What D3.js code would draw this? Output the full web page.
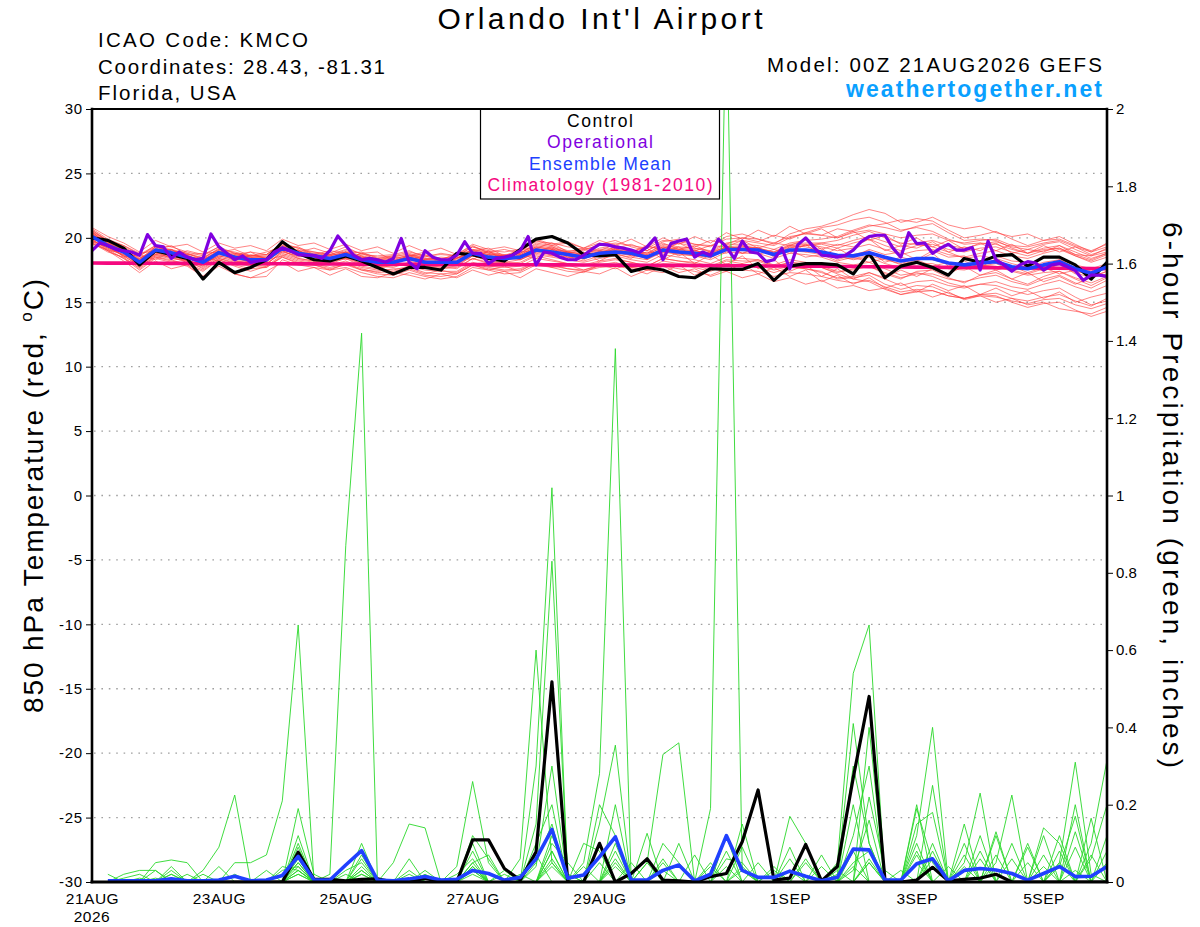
<!DOCTYPE html>
<html><head><meta charset="utf-8">
<script src="https://cdn.jsdelivr.net/npm/d3@7/dist/d3.min.js"></script>
<style>
body{margin:0;background:#fff}
svg{display:block}
text{font-family:"Liberation Sans",Arial,Helvetica,sans-serif}
</style>
</head><body>
<svg id="chart" width="1200" height="927"></svg>
<script>
// ---------------- DATA ----------------
const startTime = "2026-08-21T00:00:00Z";
const endTime = "2026-09-06T00:00:00Z";
const ensStepHours = 6;      // GEFS members / control / mean
const opStepHours = 3;       // operational run
const precipFirstStep = 1;   // precip accumulations start at +6h

const dateTicks = ["2026-08-21","2026-08-23","2026-08-25","2026-08-27","2026-08-29","2026-09-01","2026-09-03","2026-09-05"];
const dateTickLabels = ["21AUG","23AUG","25AUG","27AUG","29AUG","1SEP","3SEP","5SEP"];
const yearLabel = "2026";
const tempTicks = [-30,-25,-20,-15,-10,-5,0,5,10,15,20,25,30];
const precipTicks = [0,0.2,0.4,0.6,0.8,1,1.2,1.4,1.6,1.8,2];
const precipTickLabels = ["0","0.2","0.4","0.6","0.8","1","1.2","1.4","1.6","1.8","2"];

const legendLabels = ["Control","Operational","Ensemble Mean","Climatology (1981-2010)"];

// 850 hPa temperature, control (6-hourly, 65 values)
const controlTemp = [
20.0,19.8,19.2,17.9,19.0,18.7,18.4,16.8,18.1,17.3,17.7,18.3,19.7,18.8,18.3,18.2,
18.6,18.2,17.7,17.2,17.7,17.7,17.5,18.8,18.7,18.4,18.2,19.1,19.9,20.1,19.6,18.7,
18.6,18.7,17.4,17.7,17.5,17.0,16.9,17.6,17.55,17.55,18.0,16.7,17.8,18.0,18.0,17.9,
17.2,18.8,16.9,17.8,18.1,17.7,17.1,18.4,18.1,18.6,18.7,17.8,18.5,18.5,17.9,16.8,18.1];

// ensemble mean temperature (6-hourly)
const meanTemp = [
20.1,19.4,18.9,18.1,19.05,18.85,18.5,18.1,18.85,18.5,18.3,18.3,19.2,18.8,18.6,18.4,
18.7,18.3,18.1,18.1,18.4,18.1,18.1,18.1,18.8,18.5,18.4,18.5,19.05,18.9,18.7,18.5,
18.8,18.9,18.8,18.5,19.05,18.9,18.8,18.6,19.1,19.1,19.05,18.7,19.05,19.05,18.9,18.65,
18.6,18.85,18.5,18.2,18.4,18.4,18.05,17.9,18.05,18.15,17.75,17.6,17.9,18.15,17.6,17.25,17.75];

// operational temperature (3-hourly, 129 values)
const opTemp = [
19.0,19.6,19.4,19.1,19.0,18.9,18.65,20.25,19.4,19.3,18.4,18.9,18.5,18.3,18.4,20.3,
19.3,18.8,18.3,18.6,18.1,18.2,18.3,18.9,19.2,19.0,18.7,18.65,18.65,18.4,19.0,20.15,
19.4,18.65,18.3,18.4,18.3,18.1,18.4,19.95,18.1,17.6,19.0,18.5,18.3,18.3,18.65,19.7,
18.8,18.8,18.0,18.4,18.5,18.65,19.0,20.1,17.9,18.9,18.8,18.5,18.3,18.3,18.65,19.1,
19.5,19.45,19.3,19.2,19.05,18.85,19.3,20.0,18.3,19.55,19.75,19.9,18.5,18.9,18.65,19.9,
19.3,18.4,19.75,18.9,18.8,18.15,18.3,19.2,17.6,19.45,20.0,19.3,18.65,18.6,18.5,18.65,
19.05,19.7,20.1,20.2,20.2,19.2,18.5,20.4,19.55,19.6,18.8,19.2,19.5,19.05,19.05,19.25,
17.5,19.75,18.3,17.9,17.4,17.9,18.15,18.05,17.5,17.9,18.0,17.75,17.45,16.7,17.1,17.1,17.0];

// climatology (1981-2010), 6-hourly
const climoTemp = [
18.05,18.04,18.04,18.03,18.03,18.02,18.02,18.01,18.01,18.0,18.0,17.99,17.99,17.98,17.98,17.97,
17.97,17.96,17.96,17.95,17.95,17.94,17.94,17.93,17.93,17.92,17.92,17.91,17.91,17.9,17.9,17.89,
17.89,17.88,17.88,17.87,17.86,17.86,17.85,17.84,17.84,17.83,17.82,17.81,17.81,17.8,17.79,17.78,
17.77,17.76,17.75,17.74,17.73,17.72,17.71,17.7,17.69,17.68,17.67,17.66,17.65,17.64,17.63,17.62,17.61];

// ensemble member temperatures (red)
const memberTemps = [
[20.4,19.6,19.0,18.3,19.3,19.0,18.8,18.4,19.1,18.9,18.6,18.7,19.6,19.2,18.9,18.7,
 19.1,18.8,18.5,18.6,18.9,18.6,18.7,18.6,19.3,19.0,18.9,19.1,19.7,19.6,19.3,19.1,
 19.4,19.6,19.4,19.2,19.8,19.7,19.5,19.4,19.9,20.0,19.9,19.6,20.1,20.3,20.2,20.0,
 20.4,20.6,20.3,20.0,20.2,20.3,19.8,19.6,19.8,19.9,19.4,19.3,19.6,19.8,19.3,18.9,19.3],
[19.8,19.2,18.6,17.8,18.7,18.5,18.1,17.7,18.4,18.0,17.8,17.7,18.6,18.2,18.0,17.7,
 18.0,17.6,17.3,17.4,17.7,17.3,17.2,17.3,18.0,17.7,17.5,17.6,18.1,17.9,17.6,17.4,
 17.7,17.8,17.6,17.2,17.8,17.6,17.4,17.1,17.6,17.5,17.4,17.0,17.3,17.2,17.0,16.7,
 16.5,16.7,16.2,15.8,16.0,15.9,15.5,15.3,15.5,15.4,15.1,14.9,15.2,15.3,14.8,14.5,14.9],
[20.6,19.8,19.3,18.6,19.4,19.3,18.9,18.6,19.3,18.8,18.5,18.6,19.4,18.9,18.5,18.3,
 18.9,18.4,18.0,18.2,18.6,18.3,18.5,18.4,19.1,18.9,18.7,18.8,19.5,19.3,18.9,18.7,
 19.2,19.4,19.0,18.8,19.5,19.3,19.2,19.0,19.6,19.8,19.6,19.4,20.0,20.4,20.8,21.0,
 21.4,21.6,21.2,20.6,20.8,20.5,19.9,19.5,19.6,19.5,19.1,18.8,19.2,19.4,18.9,18.4,18.8],
[19.9,19.1,18.7,17.9,18.8,18.6,18.4,18.0,18.6,18.3,18.2,18.0,18.9,18.6,18.4,18.3,
 18.5,18.0,17.8,17.7,18.1,17.8,17.7,17.8,18.6,18.2,18.1,18.3,18.8,18.6,18.5,18.2,
 18.6,18.7,18.5,18.3,18.9,18.8,18.6,18.3,18.9,18.8,18.8,18.4,18.8,18.7,18.5,18.1,
 17.9,18.1,17.6,17.1,17.3,17.0,16.5,16.2,16.4,16.3,15.9,15.6,15.9,16.1,15.4,14.8,15.1],
[20.2,19.5,19.1,18.4,19.2,18.9,18.6,18.3,19.0,18.7,18.4,18.5,19.3,18.9,18.8,18.6,
 18.9,18.5,18.3,18.4,18.6,18.3,18.3,18.2,19.0,18.7,18.6,18.7,19.3,19.1,18.9,18.7,
 19.0,19.1,18.9,18.7,19.3,19.1,19.0,18.8,19.3,19.4,19.2,18.9,19.4,19.5,19.3,19.0,
 19.2,19.5,19.1,18.7,19.0,19.1,18.7,18.5,18.8,19.0,18.6,18.4,18.8,19.1,18.6,18.2,18.7],
[19.6,18.9,18.5,17.6,18.5,18.3,17.9,17.4,18.3,17.9,17.6,17.7,18.5,18.1,17.9,17.6,
 17.9,17.5,17.2,17.1,17.5,17.1,17.0,17.2,17.9,17.6,17.4,17.5,18.0,17.8,17.6,17.5,
 17.8,17.9,17.7,17.5,18.0,17.9,17.7,17.4,17.9,17.8,17.7,17.3,17.7,17.6,17.3,16.9,
 17.0,17.3,16.8,16.3,16.6,16.7,16.3,16.1,16.4,16.6,16.2,16.0,16.4,16.7,16.2,15.8,16.3],
[20.7,19.9,19.4,18.8,19.0,19.4,18.7,18.8,18.9,19.1,18.6,18.9,19.3,19.3,18.7,19.0,
 18.8,18.9,18.4,18.6,18.6,18.7,18.3,18.8,19.0,19.2,18.6,19.1,19.2,19.6,18.9,19.2,
 19.0,19.5,18.9,19.3,19.2,19.6,19.0,19.4,19.3,19.8,19.2,19.6,19.4,19.9,19.1,19.5,
 19.3,19.9,19.0,19.4,19.2,19.7,18.9,19.3,19.0,19.6,18.8,19.1,18.9,19.4,18.7,18.6,18.9],
[20.0,19.3,18.8,18.0,18.7,18.9,18.2,17.9,18.7,18.6,18.0,18.4,19.0,18.5,18.7,18.2,
 18.9,18.1,17.9,18.3,18.2,17.9,18.4,17.9,18.6,18.7,18.2,18.6,19.2,18.6,18.9,18.3,
 19.0,18.7,19.1,18.3,19.2,18.6,19.1,18.4,19.4,18.8,19.3,18.5,19.3,18.9,19.2,18.3,
 18.7,19.0,18.1,18.5,18.2,18.8,17.8,18.2,17.7,18.4,17.5,17.9,17.4,18.0,17.2,17.5,17.0],
[20.3,19.7,18.8,18.3,18.9,18.6,18.7,18.0,18.5,18.8,18.5,18.1,19.1,19.0,18.4,18.5,
 18.5,18.6,18.0,17.9,18.5,18.2,17.9,18.4,18.9,18.3,18.7,18.3,18.9,19.2,18.5,18.8,
 18.6,19.2,18.6,18.9,18.8,19.3,18.5,18.9,18.8,19.4,18.7,19.1,18.8,19.5,18.6,19.2,
 18.5,19.1,18.7,18.9,18.3,19.0,18.5,18.6,18.0,18.6,18.2,18.1,17.8,18.3,17.9,17.6,18.0],
[19.7,19.0,18.9,17.7,18.9,18.4,18.3,17.8,18.9,18.2,18.1,17.9,19.0,18.4,18.2,18.0,
 18.4,17.8,17.6,17.9,18.0,17.7,17.8,17.6,18.4,18.0,18.1,18.0,18.6,18.3,18.0,17.9,
 18.2,18.4,18.1,17.8,18.4,18.2,18.0,17.7,18.2,18.0,18.3,17.8,18.1,17.9,17.7,17.3,
 17.6,17.8,17.2,16.8,17.4,17.5,16.9,16.5,17.1,17.3,16.8,16.4,17.0,17.4,16.8,16.3,16.9],
[20.5,19.4,19.2,18.2,19.1,19.1,18.5,18.4,19.2,18.4,18.6,18.5,19.4,19.2,18.6,18.7,
 18.7,18.5,18.4,18.0,18.7,18.4,18.3,18.7,19.4,18.8,18.5,18.9,19.8,19.4,19.0,19.0,
 19.5,19.8,19.3,19.0,19.7,19.9,19.5,19.3,20.1,20.3,19.9,19.5,20.3,20.7,20.9,21.3,
 21.8,22.2,21.9,21.2,21.5,21.3,20.6,20.0,20.2,20.5,19.9,19.4,19.8,20.1,19.5,18.9,19.6],
[19.5,19.1,18.4,17.5,18.4,18.1,17.8,17.0,18.1,17.2,16.9,17.0,18.3,17.9,17.7,17.5,
 17.7,17.3,17.0,16.9,17.3,17.0,16.8,17.0,17.7,17.5,17.2,17.3,17.9,17.7,17.4,17.3,
 17.9,18.1,17.7,17.6,18.2,18.0,17.9,17.5,18.0,17.8,17.9,17.5,17.8,17.6,17.4,16.8,
 16.9,17.1,16.4,16.0,16.3,16.2,15.7,15.3,15.6,15.5,15.0,14.6,14.9,15.0,14.4,13.9,14.3],
[20.1,19.6,19.0,18.1,18.9,18.8,18.4,18.2,18.8,18.5,18.3,18.2,19.1,18.7,18.5,18.4,
 18.7,18.4,18.2,18.1,18.4,18.1,18.1,18.1,18.8,18.5,18.4,18.6,19.1,18.9,18.7,18.5,
 18.9,19.0,18.9,18.6,19.2,19.1,19.0,18.8,19.3,19.2,19.1,18.8,19.4,19.3,19.0,18.6,
 18.3,18.5,18.0,17.7,18.0,18.0,17.6,17.5,17.8,18.0,17.5,17.2,17.6,17.9,17.3,16.9,17.4],
[20.2,19.3,18.6,18.4,19.0,18.7,18.6,18.0,18.6,18.6,18.2,18.3,19.3,18.8,18.6,18.3,
 18.6,18.2,18.1,18.2,18.3,18.0,18.0,18.0,18.7,18.4,18.3,18.4,19.0,18.8,18.6,18.4,
 18.7,18.8,18.7,18.4,18.9,18.7,18.6,18.5,19.0,19.1,19.0,18.7,19.2,19.4,19.6,19.8,
 20.2,20.5,20.0,19.6,19.5,19.3,18.9,18.4,18.6,18.4,18.0,17.7,18.1,18.3,17.7,17.2,17.8],
[19.9,19.5,18.8,17.9,19.1,18.9,18.4,18.1,18.8,18.4,18.2,18.4,19.1,18.6,18.6,18.2,
 18.6,18.2,18.0,18.0,18.5,18.2,18.0,18.0,18.6,18.3,18.5,18.3,18.9,18.7,18.5,18.4,
 18.8,18.9,18.6,18.5,19.0,18.8,18.7,18.6,19.0,19.0,19.0,18.8,19.0,18.9,18.7,18.5,
 18.4,18.6,18.3,18.0,18.4,18.3,18.0,17.7,17.9,17.8,17.4,17.1,17.3,17.4,16.9,16.5,17.0],
[20.4,19.8,19.1,18.6,19.3,19.0,18.7,18.5,19.1,18.8,18.6,18.7,19.5,19.0,18.9,18.7,
 19.0,18.6,18.4,18.5,18.8,18.4,18.4,18.3,19.0,18.7,18.6,18.7,19.3,19.1,18.8,18.6,
 18.9,19.1,19.0,18.7,19.3,19.0,18.9,18.7,19.2,19.3,19.2,18.9,19.5,19.6,19.6,19.4,
 19.8,20.1,19.7,19.3,19.6,19.8,19.4,19.2,19.5,19.7,19.3,19.1,19.5,19.7,19.1,18.6,19.2],
[19.8,19.2,18.7,18.0,18.6,18.6,18.2,17.8,18.5,18.2,18.0,18.0,18.8,18.4,18.2,18.1,
 18.4,18.0,17.8,17.8,18.0,17.7,17.6,17.7,18.4,18.1,18.0,18.1,18.7,18.5,18.3,18.1,
 18.4,18.6,18.3,18.1,18.7,18.5,18.3,18.0,18.5,18.4,18.3,17.9,18.3,18.1,17.8,17.4,
 17.5,17.8,17.3,16.9,17.2,17.2,16.8,16.6,16.9,17.1,16.6,16.3,16.8,17.1,16.5,16.1,16.7],
[20.3,19.4,19.1,18.3,19.1,18.8,18.6,18.3,18.9,18.6,18.4,18.4,19.2,18.8,18.7,18.5,
 18.8,18.4,18.2,18.2,18.5,18.2,18.2,18.2,18.9,18.6,18.5,18.6,19.2,19.0,18.8,18.6,
 18.9,19.0,18.9,18.6,19.1,19.0,18.9,18.7,19.2,19.3,19.2,18.8,19.3,19.4,19.5,19.2,
 19.6,19.9,19.4,19.0,19.4,19.5,19.1,18.9,19.2,19.3,18.9,18.6,19.0,19.2,18.7,18.3,18.8],
[19.6,19.0,18.4,17.7,18.6,18.4,18.2,17.6,18.4,18.1,17.9,17.8,18.7,18.3,18.1,17.9,
 18.2,17.7,17.5,17.5,17.8,17.5,17.4,17.4,18.1,17.8,17.7,17.8,18.4,18.2,18.0,17.8,
 18.1,18.3,18.1,17.8,18.4,18.2,18.1,17.8,18.3,18.2,18.2,17.7,18.1,18.0,17.7,17.2,
 16.8,16.6,16.0,15.6,15.8,15.9,15.5,15.3,15.6,15.7,15.3,15.1,15.4,15.6,15.1,14.7,15.3],
[20.6,19.7,19.0,18.2,19.3,19.1,18.8,18.3,19.0,18.6,18.5,18.4,19.3,18.9,18.7,18.6,
 18.9,18.5,18.3,18.3,18.7,18.3,18.3,18.4,19.1,18.8,18.6,18.8,19.4,19.2,18.9,18.8,
 19.1,19.2,19.1,18.8,19.4,19.2,19.2,18.9,19.5,19.5,19.4,19.1,19.6,19.8,19.9,20.1,
 20.6,21.0,20.8,20.5,20.9,21.1,20.4,19.8,19.9,19.8,19.2,18.8,19.1,19.2,18.6,18.1,18.5],
[19.9,19.0,18.2,17.3,18.2,17.6,17.9,17.0,17.8,17.2,16.9,17.4,18.1,17.4,17.7,17.1,
 17.6,17.0,16.9,17.3,17.1,16.8,17.2,16.9,17.5,17.1,17.4,16.9,17.6,17.3,17.0,17.4,
 17.2,17.7,17.0,17.5,17.3,17.9,17.1,17.6,17.4,18.0,17.2,17.7,17.0,17.5,16.6,17.1,
 16.4,16.9,16.1,16.5,15.8,16.4,15.9,16.3,15.6,16.1,15.5,15.9,15.3,15.8,15.0,15.4,15.7],
[20.8,20.1,19.6,18.9,19.8,19.3,19.5,18.9,19.6,19.2,19.4,19.0,19.9,19.4,19.6,19.1,
 19.5,19.0,19.3,18.8,19.4,18.9,19.2,18.7,19.5,19.1,19.3,19.0,19.9,19.5,19.7,19.2,
 19.8,19.4,19.9,19.3,20.0,19.5,20.1,19.6,20.4,19.9,20.6,20.1,20.9,20.3,20.7,20.0,
 20.5,19.8,20.2,19.5,20.0,19.3,19.8,19.1,19.6,19.0,19.5,18.8,19.4,18.9,19.3,18.7,19.1],
[20.0,19.5,18.5,18.7,18.3,18.9,18.0,18.5,18.2,18.7,18.9,18.3,18.6,19.1,18.2,18.9,
 18.3,18.8,18.9,18.2,18.6,18.9,18.1,18.5,18.3,19.0,18.2,18.7,18.4,19.1,18.3,18.9,
 18.2,18.8,18.4,19.2,18.3,18.9,18.0,18.7,17.9,18.6,17.6,18.3,17.4,17.9,17.0,17.6,
 16.8,17.3,16.9,17.5,17.0,17.6,17.2,17.8,17.1,17.5,16.8,17.3,16.6,17.0,16.4,16.9,17.2],
[20.3,19.6,18.9,18.5,18.7,19.1,18.5,18.2,18.9,18.3,18.7,18.4,18.9,19.0,18.5,18.6,
 18.4,18.8,18.3,18.5,18.3,18.6,18.2,18.5,18.7,18.9,18.6,18.9,19.0,19.3,18.8,19.1,
 18.8,19.3,18.9,19.4,19.0,19.6,19.3,19.8,19.5,20.0,19.7,20.2,19.9,20.4,20.2,20.7,
 20.5,20.9,21.1,21.4,21.2,21.6,21.0,20.7,20.9,20.4,20.1,20.3,19.8,19.9,19.4,19.0,19.5],
[19.7,19.3,18.6,17.8,18.5,18.2,18.0,17.5,18.3,17.8,17.4,17.8,18.5,18.0,17.9,17.5,
 18.0,17.5,17.4,17.6,17.6,17.2,17.5,17.2,17.9,17.5,17.8,17.4,18.1,17.7,17.9,17.5,
 17.9,17.6,18.0,17.5,17.8,17.3,17.6,17.0,17.4,16.9,17.2,16.6,16.9,16.4,16.7,16.1,
 16.3,15.9,16.1,15.6,15.9,15.4,15.8,15.2,15.5,15.0,15.3,14.8,15.0,14.5,14.3,14.1,14.6],
[20.5,19.8,19.4,18.7,19.4,18.6,19.0,18.7,19.3,18.5,18.9,18.7,19.6,18.9,19.2,18.8,
 19.3,18.7,18.6,18.7,19.0,18.5,18.8,18.6,19.3,18.9,19.1,18.8,19.6,19.4,19.6,19.2,
 19.6,19.2,19.5,19.0,19.6,19.1,19.4,18.9,19.3,18.8,19.1,18.6,19.0,18.5,18.7,18.2,
 18.5,18.1,18.4,17.9,18.3,17.8,18.1,17.6,18.0,17.5,17.8,17.3,17.7,17.2,17.5,17.0,17.4]
];

// 6-hour precipitation (inches), steps +6h .. +384h (64 values)
const controlPrecip = [
0,0,0,0,0,0,0,0, 0,0,0,0,.077,.007,.007,.003,
.007,.008,0,0,.01,0,0,.109, .109,.035,.005,.078,.518,0,0,.1,
0,.022,.06,.005,.003,0,.014,.022, .104,.238,.005,.01,.097,.003,.04,.27,
.48,.005,0,.005,.038,.003,.007,.01, .02,0,0,0,0,0,0,0];
const meanPrecip = [
.003,.003,.003,.003,.008,.003,.003,.005, .015,.003,.005,.017,.066,.005,.005,.044,
.081,.005,.003,.008,.014,.005,.007,.03, .022,.005,.012,.06,.136,.01,.018,.065,
.117,.005,.005,.03,.044,.003,.02,.12, .03,.012,.012,.028,.015,.003,.012,.085,
.083,.005,.005,.047,.06,.003,.03,.035, .031,.022,.005,.022,.04,.014,.015,.04];

const memberPrecips = [
[0,0,0,0,.02,0,0,0, 0,0,0,0,0,0,.02,.87, 1.42,0,0,0,0,0,0,0, 0,.03,0,0,0,0,0,0,
 0,0,0,0,0,0,0,0, 0,0,0,0,0,0,0,.05, .08,0,0,0,0,0,0,0, 0,0,0,.04,0,0,0,0],
[0,0,0,0,0,0,0,0, .05,.05,.07,.21,.665,0,0,0, 0,0,0,0,0,0,0,.03, 0,0,0,0,.04,0,0,0,
 0,0,0,0,0,0,0,0, .03,0,0,0,0,0,0,0, 0,0,0,0,.06,0,0,0, 0,0,0,0,0,0,0,0],
[0,.02,.03,.03,0,0,.03,.09, .225,0,0,0,.19,.02,0,0, 0,0,0,0,0,0,0,0, 0,0,0,0,0,0,0,0,
 0,0,0,0,0,0,0,.04, 0,0,0,0,0,0,0,0, .05,0,0,0,0,0,0,0, 0,0,0,0,0,.03,0,0],
[0,0,0,0,0,0,0,0, 0,0,0,0,.04,0,0,0, 0,0,.05,.15,.14,0,0,0, 0,0,.06,.6,.05,0,0,0,
 0,0,0,0,0,0,0,0, 0,0,0,.03,0,0,0,0, 0,0,0,0,0,0,.05,.23, 0,0,0,0,0,0,0,0],
[0,0,0,0,0,0,0,0, 0,0,0,0,0,0,0,0, 0,0,0,0,0,0,.04,.26, .05,0,0,.3,1.02,0,0,0,
 0,0,0,.05,0,0,0,0, 0,0,0,0,0,0,0,.04, 0,0,0,0,0,0,0,0, 0,0,0,0,.05,.31,.02,0],
[0,0,0,0,.02,0,0,0, 0,0,0,0,0,0,0,0, .03,0,0,0,0,0,0,0, 0,0,0,.15,.83,.02,0,.15,
 .354,0,0,0,0,0,0,0, 0,0,0,0,0,0,0,.03, .16,0,0,0,0,0,0,0, 0,0,0,0,0,0,0,0],
[0,0,0,0,0,0,0,0, 0,0,0,0,.05,0,0,0, 0,0,0,0,0,0,0,.02, 0,0,0,0,0,0,.05,.28,
 1.38,0,0,0,0,0,0,0, 0,0,0,.17,.1,0,0,0, 0,0,0,0,0,0,0,0, .07,0,0,0,0,0,0,0],
[0,0,0,0,0,0,0,0, 0,0,0,0,.03,0,0,0, 0,0,0,0,0,0,0,0, 0,0,0,0,.06,0,0,0,
 0,0,.05,.33,.36,0,0,0, 0,0,0,0,0,0,0,0, 0,0,0,.12,.4,0,0,0, 0,0,0,.12,0,0,0,0],
[0,0,0,0,0,0,0,0, 0,0,0,0,0,0,0,0, .02,0,0,0,0,0,0,0, 0,0,0,0,.08,0,0,0,
 0,0,0,0,0,0,.19,2.3, .03,0,0,0,0,0,0,0, .06,0,0,0,0,0,0,0, .05,.225,0,0,0,0,0,0],
[0,0,0,0,0,0,0,0, 0,0,0,0,.02,0,0,0, 0,0,0,0,0,0,0,.05, 0,0,0,0,0,0,0,0,
 .08,0,0,0,0,0,0,0, 0,0,0,0,0,0,.05,.54, .665,0,0,.07,0,0,0,0, 0,0,0,0,0,0,.1,.315],
[0,0,0,0,0,0,0,0, 0,0,0,0,.12,0,0,0, 0,0,0,0,0,0,0,.04, 0,0,0,0,0,0,0,0,
 .05,0,0,0,0,0,0,0, 0,0,0,0,0,0,.02,.41, .1,0,0,0,0,0,0,0, 0,0,0,0,.04,.17,0,0],
[0,0,0,.05,.057,.05,0,0, 0,0,0,0,.07,0,0,0, .04,0,0,0,0,0,0,.08, 0,0,0,.1,.2,0,0,0,
 0,0,0,0,0,0,0,0, .15,0,0,0,0,0,0,0, 0,0,0,.2,0,0,.1,0, 0,0,0,0,.12,0,0,0],
[0,.01,.02,0,.03,0,0,0, 0,0,0,0,.05,0,0,.02, 0,0,0,.06,0,0,0,.05, .07,0,0,0,0,0,.1,.08,
 0,0,.126,0,0,0,0,.08, 0,0,0,.06,0,.04,0,0, 0,0,0,.19,.05,0,0,0, .12,0,.1,0,0,0,.165,0],
[.02,0,0,.03,0,0,.02,0, 0,0,0,0,.03,0,0,0, 0,.01,0,0,0,0,0,.04, 0,0,0,0,.1,.05,0,0,
 .2,0,0,0,.1,0,0,0, .09,0,0,0,.06,0,0,.2, 0,0,.03,0,.1,0,0,.08, 0,0,0,.07,0,.09,0,0],
[0,0,0,0,.04,0,0,0, .02,0,0,.03,.04,0,0,0, .06,0,0,0,.03,0,0,0, 0,.02,0,.04,.3,0,0,.05,
 0,0,0,.06,0,0,.05,0, 0,0,.04,0,0,0,0,.12, .3,0,0,.05,0,0,.15,0, 0,.06,0,0,.08,0,0,.12],
[0,0,0,0,0,.02,0,0, 0,0,0,0,.02,0,0,0, .1,0,0,0,0,0,0,.1, 0,0,0,0,.05,0,.04,0,
 .1,0,.05,0,0,0,0,.12, 0,.05,0,0,0,0,0,.08, 0,0,0,.15,.18,0,0,.06, 0,0,.09,0,0,.13,0,.05],
[0,0,0,0,0,0,0,0, 0,0,0,0,.1,0,0,.03, .05,0,0,0,0,0,.02,.06, 0,0,0,.05,.15,0,0,0,
 0,.05,0,0,0,.07,0,0, .04,0,0,.09,0,0,0,0, .22,.03,0,0,.08,0,.07,0, .13,0,0,0,.05,0,.07,0],
[0,0,0,0,0,0,0,.04, 0,0,.03,0,.06,0,0,0, .03,0,0,.02,0,0,0,.12, .06,0,0,.07,0,0,0,0,
 .04,0,0,.1,.05,0,0,0, 0,0,.03,0,0,.07,0,.3, .1,0,0,.08,0,.04,0,0, 0,.1,0,0,0,.2,0,.08],
[0,0,0,.01,0,0,0,0, 0,0,0,0,.09,0,0,0, .02,0,0,.03,0,0,0,.04, 0,0,0,0,.08,0,0,.2,
 .12,0,0,0,0,0,.04,0, 0,0,0,0,.05,0,0,0, .05,0,0,0,.25,0,.04,0, 0,0,0,.14,.1,0,0,0],
[0,0,.01,0,0,0,0,0, 0,0,0,.04,.03,0,0,0, .07,0,0,0,.02,0,0,.03, 0,0,.02,0,.12,.02,0,0,
 .06,0,0,.03,0,0,0,.06, .05,0,0,0,0,0,.03,0, .4,0,0,.1,0,0,0,.12, 0,0,.05,0,0,0,.06,.2]
];

// ---------------- STYLE ----------------
const C = {
  member: "#ff3c3c", precipMember: "#2ad82a", control: "#000000",
  op: "#8000e0", mean: "#2040ff", climo: "#f5087f", grid: "#a0a0a0", brand: "#0aa0ff"
};
const M = {left: 92, right: 1107, top: 109, bottom: 882};
const FONT = '"Liberation Sans",Arial,Helvetica,sans-serif';

// ---------------- DRAW ----------------
const svg = d3.select("#chart");
const t0 = new Date(startTime).getTime();
const x = d3.scaleUtc().domain([new Date(startTime), new Date(endTime)]).range([M.left, M.right]);
const yT = d3.scaleLinear().domain([tempTicks[0], tempTicks[tempTicks.length-1]]).range([M.bottom, M.top]);
const yP = d3.scaleLinear().domain([precipTicks[0], precipTicks[precipTicks.length-1]]).range([M.bottom, M.top]);
const timeOf = (k, stepH, off) => new Date(t0 + (k + off) * stepH * 3600000);

svg.append("defs").append("clipPath").attr("id","plotclip")
  .append("rect").attr("x",M.left).attr("y",M.top)
  .attr("width",M.right-M.left).attr("height",M.bottom-M.top);

// grid
svg.append("g").selectAll("line").data(tempTicks.slice(1,-1)).join("line")
  .attr("x1",M.left+2).attr("x2",M.right).attr("y1",d=>yT(d)).attr("y2",d=>yT(d))
  .attr("stroke",C.grid).attr("stroke-width",1.3).attr("stroke-dasharray","1.6,5.8");

const plot = svg.append("g").attr("clip-path","url(#plotclip)");
const tempLine = (stepH) => d3.line().x((d,i)=>x(timeOf(i,stepH,0))).y(d=>yT(d));
const precipLine = d3.line().x((d,i)=>x(timeOf(i,ensStepHours,precipFirstStep))).y(d=>yP(d));

plot.append("g").selectAll("path").data(memberTemps).join("path")
  .attr("d",tempLine(ensStepHours)).attr("fill","none")
  .attr("stroke",C.member).attr("stroke-width",0.85).attr("stroke-opacity",0.75);

plot.append("g").selectAll("path").data(memberPrecips).join("path")
  .attr("d",precipLine).attr("fill","none")
  .attr("stroke",C.precipMember).attr("stroke-width",0.9);

plot.append("path").datum(controlPrecip).attr("d",precipLine).attr("fill","none")
  .attr("stroke",C.control).attr("stroke-width",3.2).attr("stroke-linejoin","round");
plot.append("path").datum(meanPrecip).attr("d",precipLine).attr("fill","none")
  .attr("stroke",C.mean).attr("stroke-width",3.6).attr("stroke-linejoin","round");

plot.append("path").datum(climoTemp).attr("d",tempLine(ensStepHours)).attr("fill","none")
  .attr("stroke",C.climo).attr("stroke-width",3.6);
plot.append("path").datum(controlTemp).attr("d",tempLine(ensStepHours)).attr("fill","none")
  .attr("stroke",C.control).attr("stroke-width",3.2).attr("stroke-linejoin","round");
plot.append("path").datum(meanTemp).attr("d",tempLine(ensStepHours)).attr("fill","none")
  .attr("stroke",C.mean).attr("stroke-width",3.6).attr("stroke-linejoin","round");
plot.append("path").datum(opTemp).attr("d",tempLine(opStepHours)).attr("fill","none")
  .attr("stroke",C.op).attr("stroke-width",3.2).attr("stroke-linejoin","round");

// legend
const lg = svg.append("g");
lg.append("rect").attr("x",480.5).attr("y",M.top).attr("width",239).attr("height",90)
  .attr("fill","#fff").attr("stroke","#000").attr("stroke-width",1.2);
const legendColors = [C.control, C.op, C.mean, C.climo];
const legendWidths = [66,106,142,225];
lg.selectAll("text").data(legendLabels).join("text")
  .attr("x",600).attr("y",(d,i)=>127+i*21.3).attr("text-anchor","middle")
  .attr("font-size",17.5).attr("fill",(d,i)=>legendColors[i])
  .attr("textLength",(d,i)=>legendWidths[i]).attr("lengthAdjust","spacing").text(d=>d);

// axes
const axL = svg.append("g").attr("transform",`translate(${M.left},0)`)
  .call(d3.axisLeft(yT).tickValues(tempTicks).tickSize(6).tickPadding(3).tickFormat(d=>d));
const axR = svg.append("g").attr("transform",`translate(${M.right},0)`)
  .call(d3.axisRight(yP).tickValues(precipTicks).tickSize(6).tickPadding(3).tickFormat((d,i)=>precipTickLabels[i]));
const axB = svg.append("g").attr("transform",`translate(0,${M.bottom})`)
  .call(d3.axisBottom(x).tickValues(dateTicks.map(d=>new Date(d+"T00:00:00Z"))).tickSize(0).tickPadding(11)
  .tickFormat((d,i)=>dateTickLabels[i]));
[axL,axR,axB].forEach(a=>{
  a.select(".domain").remove();
  a.selectAll("text").attr("font-size",15).attr("font-family",FONT).attr("fill","#000");
  a.selectAll("line").attr("stroke","#000");
});
axL.selectAll("text").attr("letter-spacing",0.8);
axB.selectAll("text").attr("font-size",15.5).attr("letter-spacing",0.5);
axB.append("text").attr("x",x(new Date(dateTicks[0]+"T00:00:00Z"))).attr("y",40)
  .attr("text-anchor","middle").attr("font-size",15.5).attr("letter-spacing",0.5)
  .attr("font-family",FONT).attr("fill","#000").text(yearLabel);

// frame
const fr = svg.append("g").attr("stroke","#000").attr("stroke-linecap","square");
fr.append("line").attr("x1",M.left).attr("x2",M.right).attr("y1",M.top).attr("y2",M.top).attr("stroke-width",2);
fr.append("line").attr("x1",M.left).attr("x2",M.left).attr("y1",M.top).attr("y2",M.bottom).attr("stroke-width",2.6);
fr.append("line").attr("x1",M.right).attr("x2",M.right).attr("y1",M.top).attr("y2",M.bottom).attr("stroke-width",2.6);
fr.append("line").attr("x1",M.left).attr("x2",M.right).attr("y1",M.bottom).attr("y2",M.bottom).attr("stroke-width",3);

// titles
svg.append("text").attr("x",600).attr("y",29).attr("text-anchor","middle").attr("font-size",30)
  .attr("textLength",325).attr("lengthAdjust","spacing").text("Orlando Int'l Airport");
const infoLeft = ["ICAO Code: KMCO","Coordinates: 28.43, -81.31","Florida, USA"];
const infoWidths = [210,287,138];
svg.append("g").selectAll("text").data(infoLeft).join("text")
  .attr("x",98).attr("y",(d,i)=>47+i*26.5).attr("font-size",20.5)
  .attr("textLength",(d,i)=>infoWidths[i]).attr("lengthAdjust","spacing").text(d=>d);
svg.append("text").attr("x",1102).attr("y",72).attr("text-anchor","end").attr("font-size",20.5)
  .attr("textLength",335).attr("lengthAdjust","spacing").text("Model: 00Z 21AUG2026 GEFS");
svg.append("text").attr("x",1102).attr("y",97).attr("text-anchor","end").attr("font-size",23)
  .attr("font-weight","bold").attr("fill",C.brand)
  .attr("textLength",256).attr("lengthAdjust","spacing").text("weathertogether.net");

// axis titles
const lt = svg.append("text").attr("transform","translate(43,495) rotate(-90)")
  .attr("text-anchor","middle").attr("font-size",28).attr("letter-spacing",1.9);
lt.append("tspan").text("850 hPa Temperature (red, ");
lt.append("tspan").attr("font-size",17).attr("dy",-11).text("o");
lt.append("tspan").attr("dy",11).text("C)");
svg.append("text").attr("transform","translate(1163,495) rotate(90)")
  .attr("text-anchor","middle").attr("font-size",28)
  .attr("textLength",546).attr("lengthAdjust","spacing")
  .text("6-hour Precipitation (green, inches)");
</script>
</body></html>
